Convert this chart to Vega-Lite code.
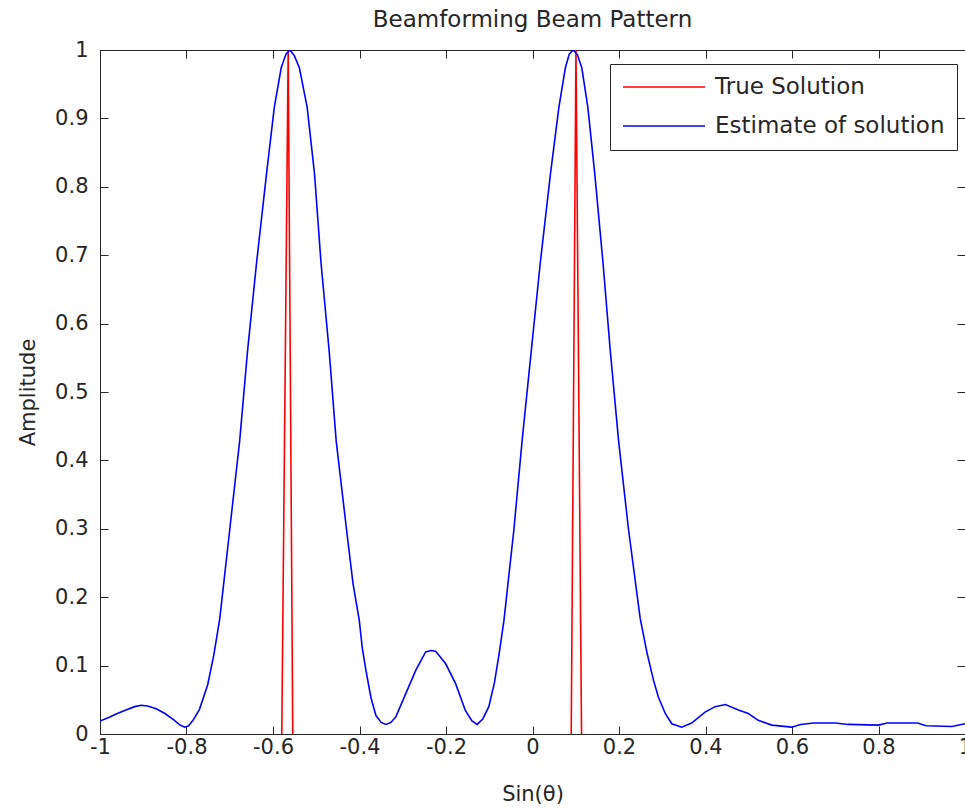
{
  "$schema": "https://vega.github.io/schema/vega-lite/v6.json",
  "width": 865,
  "height": 684,
  "autosize": {"type": "none"},
  "padding": {"left": 100, "top": 50, "right": 0, "bottom": 74},
  "background": "white",
  "title": {"text": "Beamforming Beam Pattern", "offset": 7},
  "datasets": {
    "truth": [
      {"x": -0.5797, "y": 0, "spike": "a", "series": "True Solution"},
      {"x": -0.5649, "y": 1, "spike": "a", "series": "True Solution"},
      {"x": -0.5543, "y": 0, "spike": "a", "series": "True Solution"},
      {"x": 0.0895, "y": 0, "spike": "b", "series": "True Solution"},
      {"x": 0.1005, "y": 1, "spike": "b", "series": "True Solution"},
      {"x": 0.1134, "y": 0, "spike": "b", "series": "True Solution"}
    ],
    "estimate": [
      {"x": -1.0, "y": 0.019, "series": "Estimate of solution"},
      {"x": -0.98, "y": 0.024, "series": "Estimate of solution"},
      {"x": -0.96, "y": 0.030, "series": "Estimate of solution"},
      {"x": -0.94, "y": 0.035, "series": "Estimate of solution"},
      {"x": -0.92, "y": 0.040, "series": "Estimate of solution"},
      {"x": -0.905, "y": 0.042, "series": "Estimate of solution"},
      {"x": -0.89, "y": 0.041, "series": "Estimate of solution"},
      {"x": -0.87, "y": 0.037, "series": "Estimate of solution"},
      {"x": -0.85, "y": 0.030, "series": "Estimate of solution"},
      {"x": -0.83, "y": 0.021, "series": "Estimate of solution"},
      {"x": -0.815, "y": 0.013, "series": "Estimate of solution"},
      {"x": -0.804, "y": 0.010, "series": "Estimate of solution"},
      {"x": -0.795, "y": 0.012, "series": "Estimate of solution"},
      {"x": -0.785, "y": 0.020, "series": "Estimate of solution"},
      {"x": -0.77, "y": 0.036, "series": "Estimate of solution"},
      {"x": -0.751, "y": 0.072, "series": "Estimate of solution"},
      {"x": -0.737, "y": 0.115, "series": "Estimate of solution"},
      {"x": -0.723, "y": 0.169, "series": "Estimate of solution"},
      {"x": -0.70, "y": 0.299, "series": "Estimate of solution"},
      {"x": -0.677, "y": 0.429, "series": "Estimate of solution"},
      {"x": -0.659, "y": 0.559, "series": "Estimate of solution"},
      {"x": -0.638, "y": 0.689, "series": "Estimate of solution"},
      {"x": -0.615, "y": 0.819, "series": "Estimate of solution"},
      {"x": -0.597, "y": 0.916, "series": "Estimate of solution"},
      {"x": -0.581, "y": 0.974, "series": "Estimate of solution"},
      {"x": -0.57, "y": 0.994, "series": "Estimate of solution"},
      {"x": -0.561, "y": 1.0, "series": "Estimate of solution"},
      {"x": -0.551, "y": 0.992, "series": "Estimate of solution"},
      {"x": -0.539, "y": 0.974, "series": "Estimate of solution"},
      {"x": -0.521, "y": 0.916, "series": "Estimate of solution"},
      {"x": -0.504, "y": 0.819, "series": "Estimate of solution"},
      {"x": -0.489, "y": 0.689, "series": "Estimate of solution"},
      {"x": -0.47, "y": 0.559, "series": "Estimate of solution"},
      {"x": -0.454, "y": 0.429, "series": "Estimate of solution"},
      {"x": -0.43, "y": 0.299, "series": "Estimate of solution"},
      {"x": -0.415, "y": 0.220, "series": "Estimate of solution"},
      {"x": -0.4005, "y": 0.166, "series": "Estimate of solution"},
      {"x": -0.3936, "y": 0.126, "series": "Estimate of solution"},
      {"x": -0.3851, "y": 0.093, "series": "Estimate of solution"},
      {"x": -0.3735, "y": 0.053, "series": "Estimate of solution"},
      {"x": -0.362, "y": 0.027, "series": "Estimate of solution"},
      {"x": -0.35, "y": 0.017, "series": "Estimate of solution"},
      {"x": -0.339, "y": 0.014, "series": "Estimate of solution"},
      {"x": -0.327, "y": 0.017, "series": "Estimate of solution"},
      {"x": -0.316, "y": 0.025, "series": "Estimate of solution"},
      {"x": -0.293, "y": 0.059, "series": "Estimate of solution"},
      {"x": -0.27, "y": 0.093, "series": "Estimate of solution"},
      {"x": -0.247, "y": 0.120, "series": "Estimate of solution"},
      {"x": -0.235, "y": 0.122, "series": "Estimate of solution"},
      {"x": -0.224, "y": 0.121, "series": "Estimate of solution"},
      {"x": -0.201, "y": 0.103, "series": "Estimate of solution"},
      {"x": -0.178, "y": 0.074, "series": "Estimate of solution"},
      {"x": -0.155, "y": 0.034, "series": "Estimate of solution"},
      {"x": -0.14, "y": 0.019, "series": "Estimate of solution"},
      {"x": -0.128, "y": 0.014, "series": "Estimate of solution"},
      {"x": -0.115, "y": 0.022, "series": "Estimate of solution"},
      {"x": -0.101, "y": 0.040, "series": "Estimate of solution"},
      {"x": -0.088, "y": 0.075, "series": "Estimate of solution"},
      {"x": -0.077, "y": 0.118, "series": "Estimate of solution"},
      {"x": -0.066, "y": 0.166, "series": "Estimate of solution"},
      {"x": -0.043, "y": 0.299, "series": "Estimate of solution"},
      {"x": -0.024, "y": 0.429, "series": "Estimate of solution"},
      {"x": -0.003, "y": 0.559, "series": "Estimate of solution"},
      {"x": 0.018, "y": 0.689, "series": "Estimate of solution"},
      {"x": 0.0415, "y": 0.819, "series": "Estimate of solution"},
      {"x": 0.061, "y": 0.916, "series": "Estimate of solution"},
      {"x": 0.076, "y": 0.974, "series": "Estimate of solution"},
      {"x": 0.085, "y": 0.994, "series": "Estimate of solution"},
      {"x": 0.094, "y": 1.0, "series": "Estimate of solution"},
      {"x": 0.104, "y": 0.993, "series": "Estimate of solution"},
      {"x": 0.114, "y": 0.974, "series": "Estimate of solution"},
      {"x": 0.128, "y": 0.916, "series": "Estimate of solution"},
      {"x": 0.144, "y": 0.819, "series": "Estimate of solution"},
      {"x": 0.163, "y": 0.689, "series": "Estimate of solution"},
      {"x": 0.18, "y": 0.559, "series": "Estimate of solution"},
      {"x": 0.199, "y": 0.429, "series": "Estimate of solution"},
      {"x": 0.222, "y": 0.299, "series": "Estimate of solution"},
      {"x": 0.249, "y": 0.169, "series": "Estimate of solution"},
      {"x": 0.265, "y": 0.118, "series": "Estimate of solution"},
      {"x": 0.28, "y": 0.078, "series": "Estimate of solution"},
      {"x": 0.291, "y": 0.054, "series": "Estimate of solution"},
      {"x": 0.307, "y": 0.030, "series": "Estimate of solution"},
      {"x": 0.322, "y": 0.015, "series": "Estimate of solution"},
      {"x": 0.345, "y": 0.010, "series": "Estimate of solution"},
      {"x": 0.368, "y": 0.016, "series": "Estimate of solution"},
      {"x": 0.399, "y": 0.032, "series": "Estimate of solution"},
      {"x": 0.422, "y": 0.040, "series": "Estimate of solution"},
      {"x": 0.446, "y": 0.043, "series": "Estimate of solution"},
      {"x": 0.476, "y": 0.035, "series": "Estimate of solution"},
      {"x": 0.499, "y": 0.030, "series": "Estimate of solution"},
      {"x": 0.522, "y": 0.020, "series": "Estimate of solution"},
      {"x": 0.553, "y": 0.013, "series": "Estimate of solution"},
      {"x": 0.599, "y": 0.010, "series": "Estimate of solution"},
      {"x": 0.62, "y": 0.014, "series": "Estimate of solution"},
      {"x": 0.65, "y": 0.016, "series": "Estimate of solution"},
      {"x": 0.70, "y": 0.016, "series": "Estimate of solution"},
      {"x": 0.73, "y": 0.014, "series": "Estimate of solution"},
      {"x": 0.80, "y": 0.013, "series": "Estimate of solution"},
      {"x": 0.82, "y": 0.016, "series": "Estimate of solution"},
      {"x": 0.89, "y": 0.016, "series": "Estimate of solution"},
      {"x": 0.91, "y": 0.012, "series": "Estimate of solution"},
      {"x": 0.97, "y": 0.011, "series": "Estimate of solution"},
      {"x": 1.0, "y": 0.015, "series": "Estimate of solution"}
    ]
  },
  "layer": [
    {
      "data": {"name": "truth"},
      "mark": {"type": "line", "strokeWidth": 1.6, "clip": true},
      "encoding": {
        "x": {
          "field": "x", "type": "quantitative",
          "scale": {"domain": [-1, 1], "nice": false, "zero": false},
          "axis": {
            "orient": "bottom", "title": "Sin(θ)",
            "values": [-1, -0.8, -0.6, -0.4, -0.2, 0, 0.2, 0.4, 0.6, 0.8, 1],
            "labelExpr": "'' + datum.value",
            "labelPadding": 10, "titlePadding": 26
          }
        },
        "y": {
          "field": "y", "type": "quantitative",
          "scale": {"domain": [0, 1], "nice": false},
          "axis": {
            "orient": "left", "title": "Amplitude",
            "values": [0, 0.1, 0.2, 0.3, 0.4, 0.5, 0.6, 0.7, 0.8, 0.9, 1],
            "labelExpr": "'' + datum.value",
            "labelPadding": 20, "titlePadding": 16
          }
        },
        "detail": {"field": "spike"},
        "color": {
          "field": "series", "type": "nominal",
          "scale": {"domain": ["True Solution", "Estimate of solution"], "range": ["#ff0000", "#0000ff"]},
          "legend": {
            "title": null, "orient": "none", "legendX": 510, "legendY": 14,
            "symbolType": "stroke", "symbolSize": 6724, "symbolStrokeWidth": 1.6,
            "clipHeight": 22, "rowPadding": 16, "labelOffset": 9, "padding": 12,
            "labelLimit": 400,
            "strokeColor": "#262626", "fillColor": "white", "cornerRadius": 0
          }
        }
      }
    },
    {
      "data": {"name": "estimate"},
      "mark": {"type": "line", "strokeWidth": 1.6, "clip": true},
      "encoding": {
        "x": {
          "field": "x", "type": "quantitative",
          "axis": {
            "orient": "top", "title": null, "labels": false,
            "values": [-1, -0.8, -0.6, -0.4, -0.2, 0, 0.2, 0.4, 0.6, 0.8, 1]
          }
        },
        "y": {
          "field": "y", "type": "quantitative",
          "axis": {
            "orient": "right", "title": null, "labels": false,
            "values": [0, 0.1, 0.2, 0.3, 0.4, 0.5, 0.6, 0.7, 0.8, 0.9, 1]
          }
        },
        "color": {"field": "series", "type": "nominal"}
      }
    }
  ],
  "resolve": {"axis": {"x": "independent", "y": "independent"}},
  "config": {
    "view": {"stroke": "#262626", "strokeWidth": 1},
    "axis": {
      "grid": false, "domainColor": "#262626", "tickColor": "#262626",
      "labelColor": "#262626", "titleColor": "#262626",
      "labelFont": "DejaVu Sans", "titleFont": "DejaVu Sans",
      "labelFontSize": 21, "titleFontSize": 21, "titleFontWeight": "normal",
      "tickSize": -8, "labelFlush": false, "labelOverlap": false
    },
    "legend": {"labelFont": "DejaVu Sans", "labelFontSize": 23, "labelColor": "#262626", "strokeWidth": 1},
    "title": {"font": "DejaVu Sans", "fontSize": 23, "fontWeight": "normal", "color": "#262626"}
  }
}
